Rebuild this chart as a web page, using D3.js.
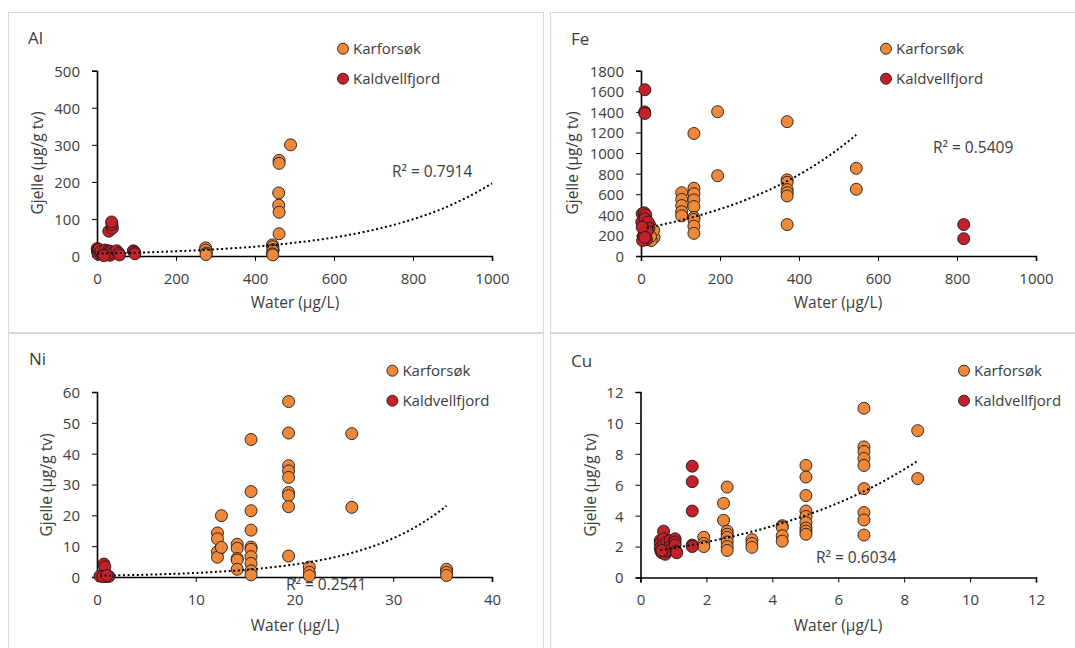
<!DOCTYPE html>
<html><head><meta charset="utf-8">
<script src="https://cdn.jsdelivr.net/npm/d3@7"></script>
<style>
body{margin:0;background:#fff}
svg{display:block}
text{font-family:'Open Sans',sans-serif;fill:#3c3c3c}
</style>
</head><body>
<svg id="c" width="1075" height="648"></svg>
<script>
// ---------- DATA ----------
const seriesNames = ["Karforsøk", "Kaldvellfjord"];
const seriesColors = ["#F0883A", "#C4202A"];
const yTitle = "Gjelle (µg/g tv)";
const xTitle = "Water (µg/L)";

// Al
const alXTicks = [0, 200, 400, 600, 800, 1000];
const alYTicks = [0, 100, 200, 300, 400, 500];
const alKarforsok = [[275,22],[275,16],[277,8],[276,4],[444,30],[445,25],[446,17],[445,14],[444,6],[445,3],
  [461,258],[461,250],[460,170],[460,137],[461,118],[461,60],[490,300]];
const alKaldvellfjord = [[0.5,20],[1,15],[2,10],[3,5],[5,18],[8,8],[10,12],[15,3],[20,16],[25,5],[28,14],[30,10],
  [33,2],[35,12],[40,8],[50,14],[55,8],[57,3],[92,14],[95,10],[96,6],[18,1],[30,67],[39,75],[38,85],[37,92]];
const alTrend = {a: 6.45, b: 0.003415, from: 0, to: 1000};
const alR2 = "R² = 0.7914";

// Fe
const feXTicks = [0, 200, 400, 600, 800, 1000];
const feYTicks = [0, 200, 400, 600, 800, 1000, 1200, 1400, 1600, 1800];
const feKarforsok = [[22,300],[25,260],[28,230],[30,200],[33,180],[20,160],[26,150],[18,210],[32,250],[24,190],
  [103,615],[103,550],[103,490],[103,430],[103,390],
  [134,1190],[134,658],[134,605],[134,545],[134,480],[134,375],[134,355],[134,290],[134,220],
  [194,1402],[194,780],
  [370,1305],[370,740],[370,716],[370,645],[370,615],[370,583],[370,305],
  [545,852],[545,648]];
const feKaldvellfjord = [[3,410],[8,420],[12,400],[5,340],[2,330],[10,360],[15,300],[18,330],[20,270],[8,250],
  [12,220],[6,190],[9,170],[14,160],[4,150],[7,200],[16,240],[3,280],[10,180],
  [10,1615],[9,1400],[10,1385],[817,305],[817,168]];
const feTrend = {a: 263, b: 0.00275, from: 15, to: 545};
const feR2 = "R² = 0.5409";

// Ni
const niXTicks = [0, 10, 20, 30, 40];
const niYTicks = [0, 10, 20, 30, 40, 50, 60];
const niKarforsok = [[12.2,14.3],[12.2,12.4],[12.2,8.2],[12.2,6.4],[12.6,19.9],[12.6,9.6],
  [14.2,10.6],[14.2,9.3],[14.2,6],[14.2,5.5],[14.2,2.5],
  [15.6,44.6],[15.6,27.7],[15.6,21.5],[15.6,15.2],[15.6,9.7],[15.6,9],[15.6,6.6],[15.6,4.4],[15.6,2],[15.6,0.7],
  [19.4,56.9],[19.4,46.7],[19.4,36.1],[19.4,34.4],[19.4,32.3],[19.4,27.4],[19.4,26.4],[19.4,22.8],[19.4,6.8],
  [21.5,3.2],[21.5,1.5],[21.5,0.4],[25.8,46.5],[25.8,22.6],[35.4,2.5],[35.4,1.5],[35.4,0.5]];
const niKaldvellfjord = [[0.7,4.2],[0.8,3.3],[0.3,0.3],[0.9,0.2],[1.2,0.2],[0.6,0.1],[1.0,0.5]];
const niTrend = {a: 0.425, b: 0.1129, from: 0.3, to: 35.4};
const niR2 = "R² = 0.2541";

// Cu
const cuXTicks = [0, 2, 4, 6, 8, 10, 12];
const cuYTicks = [0, 2, 4, 6, 8, 10, 12];
const cuKarforsok = [[1.92,2.6],[1.92,2.2],[1.92,2.0],[2.52,4.8],[2.52,3.7],
  [2.63,5.85],[2.63,3.0],[2.63,2.8],[2.63,2.6],[2.63,2.3],[2.63,2.0],[2.63,1.75],
  [3.38,2.45],[3.38,2.2],[3.38,1.95],[4.3,3.35],[4.3,3.25],[4.3,2.7],[4.3,2.35],
  [5.02,7.25],[5.02,6.5],[5.02,5.3],[5.02,4.3],[5.02,3.95],[5.02,3.55],[5.02,3.2],[5.02,3.0],[5.02,2.8],
  [6.78,10.95],[6.78,8.45],[6.78,8.15],[6.78,7.7],[6.78,7.25],[6.78,5.75],[6.78,4.2],[6.78,3.72],[6.78,2.75],
  [8.41,9.5],[8.41,6.4]];
const cuKaldvellfjord = [[0.6,2.4],[0.6,2.2],[0.6,1.9],[0.62,1.7],[0.65,1.6],[0.7,3.0],[0.7,2.5],[0.7,2.1],
  [0.72,1.8],[0.75,1.5],[0.8,2.3],[0.8,1.7],[0.9,2.4],[0.9,2.0],[0.92,1.8],[1.05,2.5],[1.05,2.3],[1.05,2.1],
  [1.08,1.7],[1.1,1.6],[0.65,1.75],
  [1.57,7.2],[1.57,6.2],[1.57,4.3],[1.57,2.1],[1.57,2.0]];
const cuTrend = {a: 1.58, b: 0.186, from: 0.6, to: 8.4};
const cuR2 = "R² = 0.6034";

// ---------- LAYOUT ----------
const panels = [
  {title:"Al", xTicks:alXTicks, yTicks:alYTicks, s1:alKarforsok, s2:alKaldvellfjord, trend:alTrend, r2:alR2,
   box:[8.5,12.5,535,320], x0:97, x1:492, y0:256, y1:70.7, titlePos:[28,43.5],
   legend:[343,48.7], r2Pos:[392,177], xTitlePos:[295,308], yTitlePos:[43,163]},
  {title:"Fe", xTicks:feXTicks, yTicks:feYTicks, s1:feKarforsok, s2:feKaldvellfjord, trend:feTrend, r2:feR2,
   box:[550.5,12.5,540,320], x0:641, x1:1036, y0:256, y1:70.7, titlePos:[571,45],
   legend:[886,48.7], r2Pos:[933,152.7], xTitlePos:[838,308], yTitlePos:[578,163]},
  {title:"Ni", xTicks:niXTicks, yTicks:niYTicks, s1:niKarforsok, s2:niKaldvellfjord, trend:niTrend, r2:niR2,
   box:[8.5,333.5,535,330], x0:97, x1:492, y0:577, y1:392, titlePos:[29,365],
   legend:[392.4,370.7], r2Pos:[286,589.5], xTitlePos:[295,631], yTitlePos:[52,485]},
  {title:"Cu", xTicks:cuXTicks, yTicks:cuYTicks, s1:cuKarforsok, s2:cuKaldvellfjord, trend:cuTrend, r2:cuR2,
   box:[550.5,333.5,540,330], x0:640.5, x1:1036, y0:577.5, y1:392, titlePos:[571,366.5],
   legend:[964,370.7], r2Pos:[816,563.3], xTitlePos:[838,631], yTitlePos:[596,485]}
];

const svg = d3.select("#c");
svg.append("rect").attr("width",1075).attr("height",648).attr("fill","#fff");

panels.forEach(p => {
  const g = svg.append("g");
  g.append("rect").attr("x",p.box[0]).attr("y",p.box[1]).attr("width",p.box[2]).attr("height",p.box[3])
    .attr("fill","#fff").attr("stroke","#d9d9d9").attr("stroke-width",1);

  const x = d3.scaleLinear().domain([p.xTicks[0], p.xTicks[p.xTicks.length-1]]).range([p.x0, p.x1]);
  const y = d3.scaleLinear().domain([p.yTicks[0], p.yTicks[p.yTicks.length-1]]).range([p.y0, p.y1]);

  // axes
  const xa = g.append("g").attr("transform",`translate(0,${p.y0})`)
    .call(d3.axisBottom(x).tickValues(p.xTicks).tickSize(5).tickPadding(12).tickFormat(d3.format("d")));
  const ya = g.append("g").attr("transform",`translate(${p.x0},0)`)
    .call(d3.axisLeft(y).tickValues(p.yTicks).tickSize(5).tickPadding(12).tickFormat(d3.format("d")));
  [xa, ya].forEach(a => {
    a.select(".domain").attr("stroke","#000").attr("stroke-width",1.6);
    a.selectAll(".tick line").attr("stroke","#000").attr("stroke-width",1);
    a.selectAll(".tick text").attr("fill","#3c3c3c").style("font-size","15px").style("font-family","'Open Sans',sans-serif");
  });
  xa.selectAll(".tick text").attr("dy",null).attr("y",null).attr("transform",`translate(0,27.5)`);
  ya.selectAll(".tick text").attr("dy","0.36em");

  // points
  [p.s1, p.s2].forEach((s, i) => {
    g.append("g").selectAll("circle").data(s).join("circle")
      .attr("cx", d => x(d[0])).attr("cy", d => y(d[1])).attr("r", 6)
      .attr("fill", seriesColors[i]).attr("stroke", "#1a1a1a").attr("stroke-width", 0.9);
  });

  // trendline
  const t = p.trend;
  const xs = d3.range(0, 101).map(k => t.from + (t.to - t.from) * k / 100);
  g.append("path").datum(xs)
    .attr("d", d3.line().x(v => x(v)).y(v => y(t.a * Math.exp(t.b * v))))
    .attr("fill","none").attr("stroke","#000").attr("stroke-width",2).attr("stroke-dasharray","2,2.6");

  // texts
  g.append("text").attr("x",p.titlePos[0]).attr("y",p.titlePos[1]).style("font-size","17px").text(p.title);
  g.append("text").attr("x",p.r2Pos[0]).attr("y",p.r2Pos[1]).style("font-size","15.5px").text(p.r2);
  g.append("text").attr("x",p.xTitlePos[0]).attr("y",p.xTitlePos[1]).attr("text-anchor","middle")
    .style("font-size","15.5px").text(xTitle);
  g.append("text").attr("transform",`translate(${p.yTitlePos[0]},${p.yTitlePos[1]}) rotate(-90)`)
    .attr("text-anchor","middle").style("font-size","15.5px").text(yTitle);

  // legend
  seriesNames.forEach((n, i) => {
    const ly = p.legend[1] + i * 30;
    g.append("circle").attr("cx",p.legend[0]).attr("cy",ly).attr("r",5.5)
      .attr("fill",seriesColors[i]).attr("stroke","#1a1a1a").attr("stroke-width",0.9);
    g.append("text").attr("x",p.legend[0]+10).attr("y",ly).attr("dy","0.36em")
      .style("font-size","15px").text(n);
  });
});
</script>
</body></html>
